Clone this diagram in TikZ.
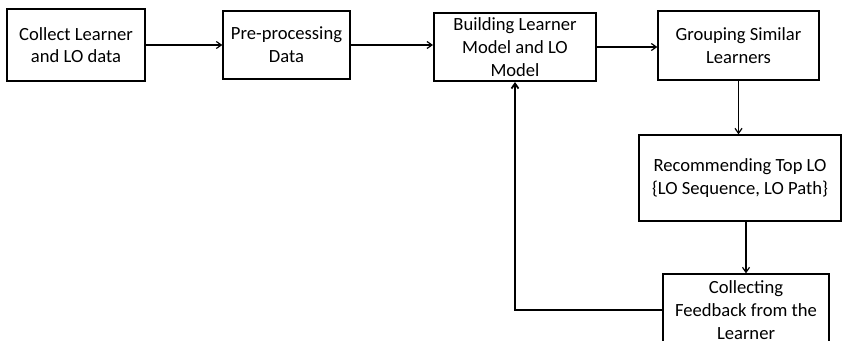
\documentclass[tikz,border=0pt]{standalone}
\usepackage{fontspec}
\setmainfont{Carlito}
\usetikzlibrary{arrows.meta,positioning}
\begin{document}
\begin{tikzpicture}[x=1pt,y=-1pt,
  stepbox/.style={draw=black, line width=1.3pt, align=center, inner sep=0pt,
    font=\fontsize{18.6}{22.7}\selectfont, text=black},
  link/.style={line width=1.2pt, -{Straight Barb[length=5pt,width=7pt]}},
  thick link/.style={line width=1.8pt, -{Straight Barb[length=5pt,width=7pt]}}]
  \useasboundingbox (0,0) rectangle (842,340);
  \clip (0,0) rectangle (842,340);

  % process steps
  \node[stepbox, minimum width=138, minimum height=72] (collect) at (76,45)
    {Collect Learner\\and LO data};
  \node[stepbox, minimum width=127, minimum height=68] (prep) at (286.5,45)
    {Pre-processing\\Data};
  \node[stepbox, line width=2pt, minimum width=162, minimum height=68] (build) at (515,47)
    {Building Learner\\Model and LO\\Model};
  \node[stepbox, minimum width=161, minimum height=69] (group) at (738.5,45.5)
    {Grouping Similar\\Learners};
  \node[stepbox, minimum width=202, minimum height=86] (recommend) at (740,178)
    {Recommending Top LO\\\{LO Sequence, LO Path\}};
  \node[stepbox, minimum width=166, minimum height=72] (feedback) at (746,310)
    {Collecting\\Feedback from the\\Learner};

  % forward flow
  \draw[link] (collect.east) -- (prep.west);
  \draw[link] (prep.east) -- (prep.east -| build.west);
  \draw[link] (build.east) -- (build.east -| group.west);
  \draw[link] (group.south) -- (group.south |- recommend.north);
  \draw[link] (recommend.south -| feedback.north) -- (feedback.north);

  % feedback loop back to the model
  \draw[thick link] (feedback.west) -| (build.south);
\end{tikzpicture}
\end{document}
